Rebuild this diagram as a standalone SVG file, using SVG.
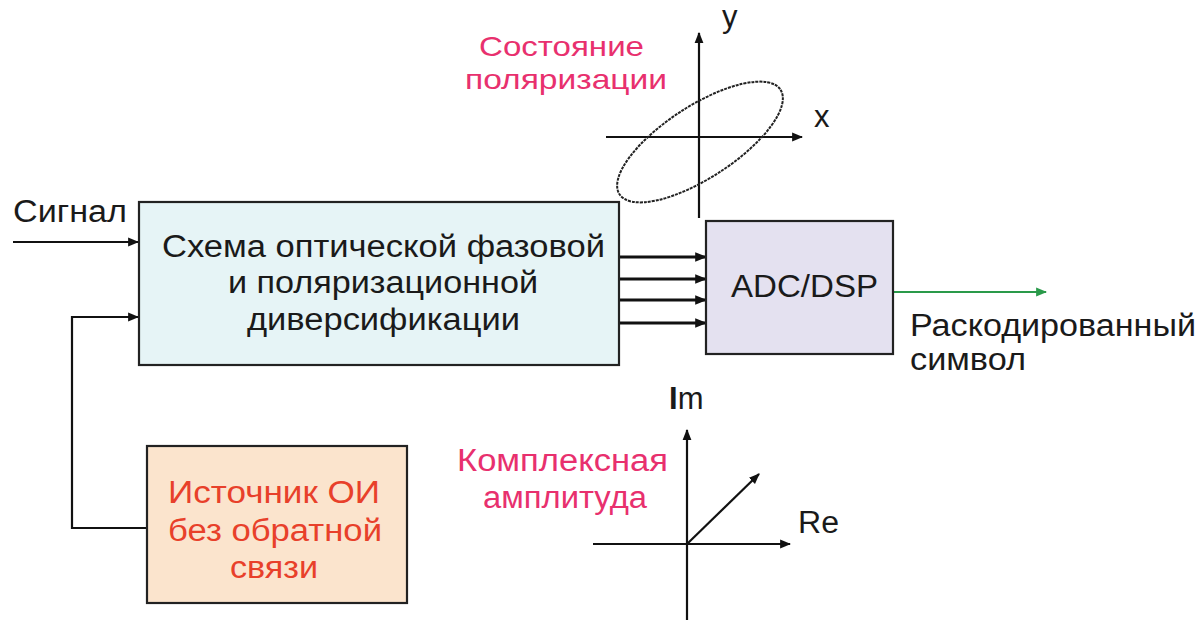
<svg xmlns="http://www.w3.org/2000/svg" width="1203" height="621" viewBox="0 0 1203 621">
<defs>
<marker id="ah" viewBox="0 0 10 10" refX="9" refY="5" markerWidth="11" markerHeight="11" markerUnits="userSpaceOnUse" orient="auto"><path d="M0,1 L10,5 L0,9 Z" fill="#111"/></marker>
<marker id="ahb" viewBox="0 0 10 10" refX="9" refY="5" markerWidth="12" markerHeight="12" markerUnits="userSpaceOnUse" orient="auto"><path d="M0,1 L10,5 L0,9 Z" fill="#111"/></marker>
<marker id="ahg" viewBox="0 0 10 10" refX="9" refY="5" markerWidth="11" markerHeight="11" markerUnits="userSpaceOnUse" orient="auto"><path d="M0,1 L10,5 L0,9 Z" fill="#2a9a4a"/></marker>
</defs>
<style>
text{font-family:"Liberation Sans",Arial,sans-serif;font-size:31px;fill:#1a1a1a}
.pink{fill:#e8306e}
.sm{font-size:28px}
.red{fill:#e8402a}
.box{stroke:#222;stroke-width:2.2}
.ln{stroke:#111;stroke-width:2.2;fill:none}
.lnb{stroke:#111;stroke-width:3;fill:none}
</style>
<g id="connectors">
<line class="ln" x1="13" y1="242" x2="138" y2="242" marker-end="url(#ah)"/>
<polyline class="ln" points="148,528 72,528 72,317 138,317" marker-end="url(#ah)"/>
<line class="lnb" x1="619" y1="257" x2="706" y2="257" marker-end="url(#ahb)"/>
<line class="lnb" x1="619" y1="279" x2="706" y2="279" marker-end="url(#ahb)"/>
<line class="lnb" x1="619" y1="300" x2="706" y2="300" marker-end="url(#ahb)"/>
<line class="lnb" x1="619" y1="323" x2="706" y2="323" marker-end="url(#ahb)"/>
<line x1="893" y1="292" x2="1046" y2="292" stroke="#2a9a4a" stroke-width="2" marker-end="url(#ahg)"/>
</g>
<g id="signal-label"><text x="13" y="222" textLength="114" lengthAdjust="spacingAndGlyphs">Сигнал</text></g>
<g id="main-box">
<rect class="box" x="139" y="202" width="480" height="163" fill="#e6f4f6"/>
<text x="162" y="257" textLength="443" lengthAdjust="spacingAndGlyphs">Схема оптической фазовой</text>
<text x="228" y="293" textLength="310" lengthAdjust="spacingAndGlyphs">и поляризационной</text>
<text x="247" y="330" textLength="273" lengthAdjust="spacingAndGlyphs">диверсификации</text>
</g>
<g id="adc-dsp">
<rect class="box" x="706" y="221" width="187" height="133" fill="#e4e1f0"/>
<text x="731" y="297" textLength="147" lengthAdjust="spacingAndGlyphs">ADC/DSP</text>
</g>
<g id="output-label">
<text x="910" y="336" textLength="286" lengthAdjust="spacingAndGlyphs">Раскодированный</text>
<text x="910" y="370" textLength="116" lengthAdjust="spacingAndGlyphs">символ</text>
</g>
<g id="source-box">
<rect class="box" x="147" y="446" width="260" height="157" fill="#fbe4cd"/>
<text class="red" x="168" y="503" textLength="212" lengthAdjust="spacingAndGlyphs">Источник ОИ</text>
<text class="red" x="168" y="541" textLength="214" lengthAdjust="spacingAndGlyphs">без обратной</text>
<text class="red" x="230" y="578" textLength="88" lengthAdjust="spacingAndGlyphs">связи</text>
</g>
<g id="polarization">
<text class="pink sm" x="479" y="56" textLength="165" lengthAdjust="spacingAndGlyphs">Состояние</text>
<text class="pink sm" x="465" y="89" textLength="202" lengthAdjust="spacingAndGlyphs">поляризации</text>
<line class="ln" x1="699" y1="218" x2="699" y2="33" marker-end="url(#ah)"/>
<line class="ln" x1="606" y1="137" x2="802" y2="137" marker-end="url(#ah)"/>
<ellipse cx="700" cy="142" rx="96" ry="36" transform="rotate(-33 700 142)" fill="none" stroke="#222" stroke-width="2" stroke-dasharray="3 1"/>
<text x="722" y="27">y</text>
<text x="814" y="127">x</text>
</g>
<g id="complex">
<text class="pink" x="457" y="471" textLength="211" lengthAdjust="spacingAndGlyphs">Комплексная</text>
<text class="pink" x="483" y="508" textLength="164" lengthAdjust="spacingAndGlyphs">амплитуда</text>
<line class="ln" x1="687" y1="620" x2="687" y2="430" marker-end="url(#ah)"/>
<line class="ln" x1="593" y1="544" x2="790" y2="544" marker-end="url(#ah)"/>
<line class="ln" x1="687" y1="544" x2="759" y2="474" marker-end="url(#ah)"/>
<text x="669" y="409"><tspan font-weight="bold">I</tspan>m</text>
<text x="798" y="533" textLength="41" lengthAdjust="spacingAndGlyphs">Re</text>
</g>
</svg>
